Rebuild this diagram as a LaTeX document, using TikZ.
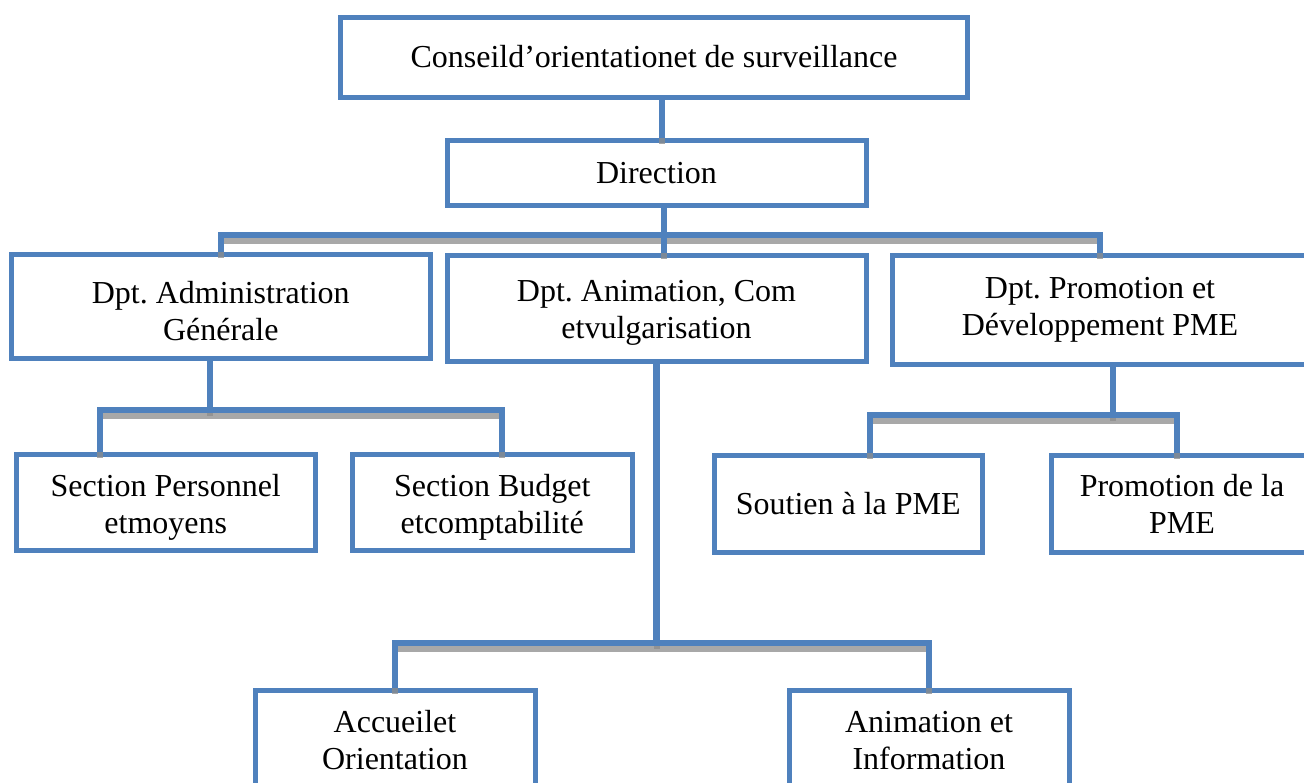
\documentclass[tikz,border=0pt]{standalone}
\usepackage{fontspec}
\setmainfont{Liberation Serif}
\frenchspacing
\usetikzlibrary{calc}
\definecolor{orgblue}{HTML}{4F81BD}
\definecolor{orgshadow}{HTML}{8C8C8C}
% a connector: grey drop shadow first, blue line on top
\newcommand\orgwire[1]{%
  \draw[linkshadow] #1;
  \draw[link] #1;}
\begin{document}
\begin{tikzpicture}[x=1pt,y=-1pt,
  box/.style={draw=orgblue, line width=5pt, fill=white, rectangle,
    align=center, inner sep=0pt, font=\fontsize{32}{37}\selectfont},
  % two-line text block, last baseline placed half the given height below the centre
  twoline/.style={text height=#1, text depth=0pt},
  link/.style={draw=orgblue, line width=6.5pt},
  linkshadow/.style={draw=orgshadow, line width=6pt, opacity=0.75,
    transform canvas={yshift=-6pt}}]

\useasboundingbox (0,0) rectangle (1304,782);
\fill[white] (0,0) rectangle (1304,782);
\clip (0,0) rectangle (1304,782);

% boxes
\node[box, minimum width=627pt, minimum height=80pt] (top) at (654,57)
  {Conseild’orientationet de surveillance};
\node[box, minimum width=419pt, minimum height=65.5pt] (dir) at (656.5,172.75)
  {Direction};
\node[box, minimum width=418.5pt, minimum height=104pt, twoline=67pt] (adm) at (220.75,306.5)
  {Dpt. Administration\\Générale};
\node[box, minimum width=419pt, minimum height=106pt, twoline=60pt] (mid) at (656.5,308)
  {Dpt. Animation, Com\\etvulgarisation};
\node[box, minimum width=416pt, minimum height=109pt] (pro) at (1100,309.5)
  {Dpt. Promotion et\\Développement PME};
\node[box, minimum width=298.5pt, minimum height=96pt, twoline=62pt] (sp) at (165.75,502)
  {Section Personnel\\etmoyens};
\node[box, minimum width=280.5pt, minimum height=96pt, twoline=62pt] (sb) at (492.25,502)
  {Section Budget\\etcomptabilité};
\node[box, minimum width=267.5pt, minimum height=97pt] (sou) at (848.25,503.5)
  {Soutien à la PME};
\node[box, minimum width=262pt, minimum height=97pt] (pdp) at (1182,503.5)
  {Promotion de la\\PME};
\node[box, minimum width=280pt, minimum height=97pt, twoline=61pt] (acc) at (395,738.5)
  {Accueilet\\Orientation};
\node[box, minimum width=280pt, minimum height=97pt, twoline=61pt] (ani) at (929,738.5)
  {Animation et\\Information};

% junction points of the connector buses
\coordinate (j0) at (662,118);
\coordinate (j1) at (664,235);
\coordinate (j2) at (210,410);
\coordinate (l2) at (100,410);
\coordinate (r2) at (502,410);
\coordinate (j3) at (1113,415);
\coordinate (l3) at (870,415);
\coordinate (r3) at (1177,415);
\coordinate (j4) at (657,643);

% connectors
\orgwire{(top.south -| j0) -- (dir.north -| j0)}
\orgwire{(adm.north) |- (j1) -| (pro.north)}
\orgwire{(dir.south -| j1) -- (mid.north -| j1)}
\orgwire{(adm.south -| j2) -- (j2)}
\orgwire{(sp.north -| l2) -- (l2) -- (r2) -- (sb.north -| r2)}
\orgwire{(pro.south -| j3) -- (j3)}
\orgwire{(sou.north -| l3) -- (l3) -- (r3) -- (pdp.north -| r3)}
\orgwire{(mid.south) -- (mid.south |- j4)}
\orgwire{(acc.north) |- (j4) -| (ani.north)}

\end{tikzpicture}
\end{document}
